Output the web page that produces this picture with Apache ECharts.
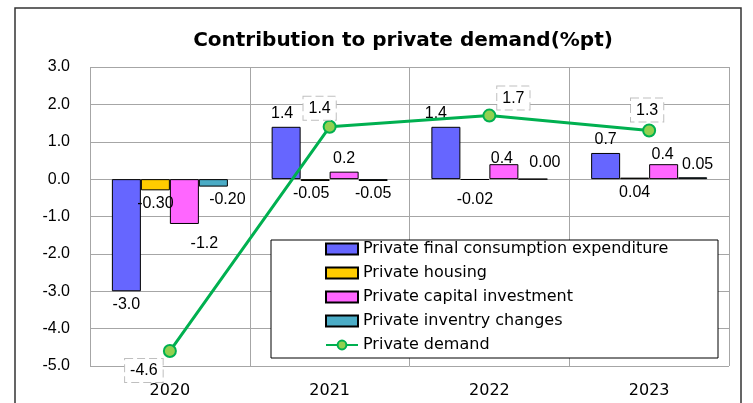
<!DOCTYPE html>
<html>
<head>
<meta charset="utf-8">
<script src="https://cdn.jsdelivr.net/npm/echarts@6/dist/echarts.min.js"></script>
<style>html,body{margin:0;padding:0;background:#fff}#c{width:753px;height:403px}</style>
</head>
<body>
<div id="c"></div>
<script>
const categories = ['2020', '2021', '2022', '2023'];
const consumption = [-3.0, 1.4, 1.4, 0.7];
const housing = [-0.30, -0.05, -0.02, 0.04];
const capital = [-1.2, 0.2, 0.4, 0.4];
const inventory = [-0.20, -0.05, 0.00, 0.05];
const demand = [-4.6, 1.4, 1.7, 1.3];
const yMin = -5, yMax = 3, yStep = 1;

const seriesNames = ['Private final consumption expenditure', 'Private housing', 'Private capital investment', 'Private inventry changes', 'Private demand'];
const barColors = ['#6666FF', '#FFCC00', '#FF66FF', '#4BACC6'];

const numFont = 'Liberation Sans, Arial, sans-serif';
const txtFont = 'DejaVu Sans, Verdana, sans-serif';

// label placement tweaks (presentation only)
const barLabelTweaks = [
  [{}, {offset: [-4, 0]}, {offset: [-10, 0]}, {}],
  [{}, {offset: [-4, 0]}, {distance: 12}, {position: 'bottom'}],
  [{offset: [20, 0], distance: 12}, {}, {offset: [-2, 7]}, {offset: [-1, 3]}],
  [{offset: [14, 0]}, {}, {offset: [12, -3]}, {offset: [5, 0]}]
];
const barDecimals = [1, 2, 1, 2];
const lineLabelTweaks = [
  {position: 'bottom', distance: 1, offset: [-26, 0]},
  {position: 'top', distance: 0, offset: [-10, 0]},
  {position: 'top', distance: -1, offset: [24, 0]},
  {position: 'top', distance: 2, offset: [-2, 0]}
];

function barSeries(idx, values) {
  return {
    name: seriesNames[idx],
    type: 'bar',
    barWidth: 29,
    barGap: '0%',
    itemStyle: {color: barColors[idx], borderColor: '#000', borderWidth: 1},
    data: values.map((v, i) => {
      const t = barLabelTweaks[idx][i];
      return {
        value: v,
        label: Object.assign({
          show: true,
          position: v >= 0 ? 'top' : 'bottom',
          distance: 5,
          formatter: () => v.toFixed(barDecimals[idx]),
          fontFamily: numFont, fontSize: 16, color: '#000'
        }, t)
      };
    }),
    z: 2
  };
}

const option = {
  animation: false,
  backgroundColor: '#fff',
  grid: {left: 90, right: 24, top: 67, bottom: 37},
  xAxis: {
    type: 'category',
    data: categories,
    boundaryGap: true,
    axisLine: {show: false},
    axisTick: {show: false},
    splitLine: {show: true, lineStyle: {color: '#A6A6A6', width: 1}},
    axisLabel: {fontFamily: txtFont, fontSize: 16, color: '#000', margin: 17}
  },
  yAxis: {
    type: 'value',
    min: yMin, max: yMax, interval: yStep,
    axisLine: {show: false},
    axisTick: {show: false},
    splitLine: {show: true, lineStyle: {color: '#A6A6A6', width: 1}},
    axisLabel: {fontFamily: numFont, fontSize: 16, color: '#000', margin: 20, formatter: v => v.toFixed(1)}
  },
  legend: {
    orient: 'vertical',
    left: 325, top: 241,
    padding: 0,
    itemWidth: 32, itemHeight: 11, itemGap: 8,
    textStyle: {fontFamily: txtFont, fontSize: 16, color: '#000', lineHeight: 16},
    data: seriesNames.map((n, i) => i < 4 ? {name: n, icon: 'rect'} : {name: n}),
    z: 6
  },
  graphic: [
    {type: 'rect', z: 100, silent: true, shape: {x: 15, y: 8, width: 726, height: 420},
     style: {fill: 'none', stroke: '#333', lineWidth: 1.5}},
    {type: 'rect', z: 3, silent: true, shape: {x: 271, y: 240, width: 447, height: 118},
     style: {fill: '#fff', stroke: '#000', lineWidth: 1}},
    {type: 'text', z: 10, x: 403, y: 41,
     style: {text: 'Contribution to private demand(%pt)', fontFamily: txtFont, fontWeight: 'bold', fontSize: 20, fill: '#000', textAlign: 'center', textVerticalAlign: 'middle'}}
  ],
  series: [
    barSeries(0, consumption),
    barSeries(1, housing),
    barSeries(2, capital),
    barSeries(3, inventory),
    {
      name: seriesNames[4],
      type: 'line',
      symbol: 'circle',
      symbolSize: 12,
      lineStyle: {color: '#00B050', width: 3},
      itemStyle: {color: '#92D050', borderColor: '#00B050', borderWidth: 2},
      z: 5,
      data: demand.map((v, i) => ({
        value: v,
        label: Object.assign({
          show: true,
          formatter: () => v.toFixed(1),
          fontFamily: numFont, fontSize: 16, color: '#000',
          backgroundColor: '#fff',
          borderColor: '#BFBFBF', borderType: 'dashed', borderWidth: 1,
          padding: [4, 5, 3, 5]
        }, lineLabelTweaks[i])
      }))
    }
  ]
};

const chart = echarts.init(document.getElementById('c'), null, {renderer: 'canvas'});
chart.setOption(option);
</script>
</body>
</html>
